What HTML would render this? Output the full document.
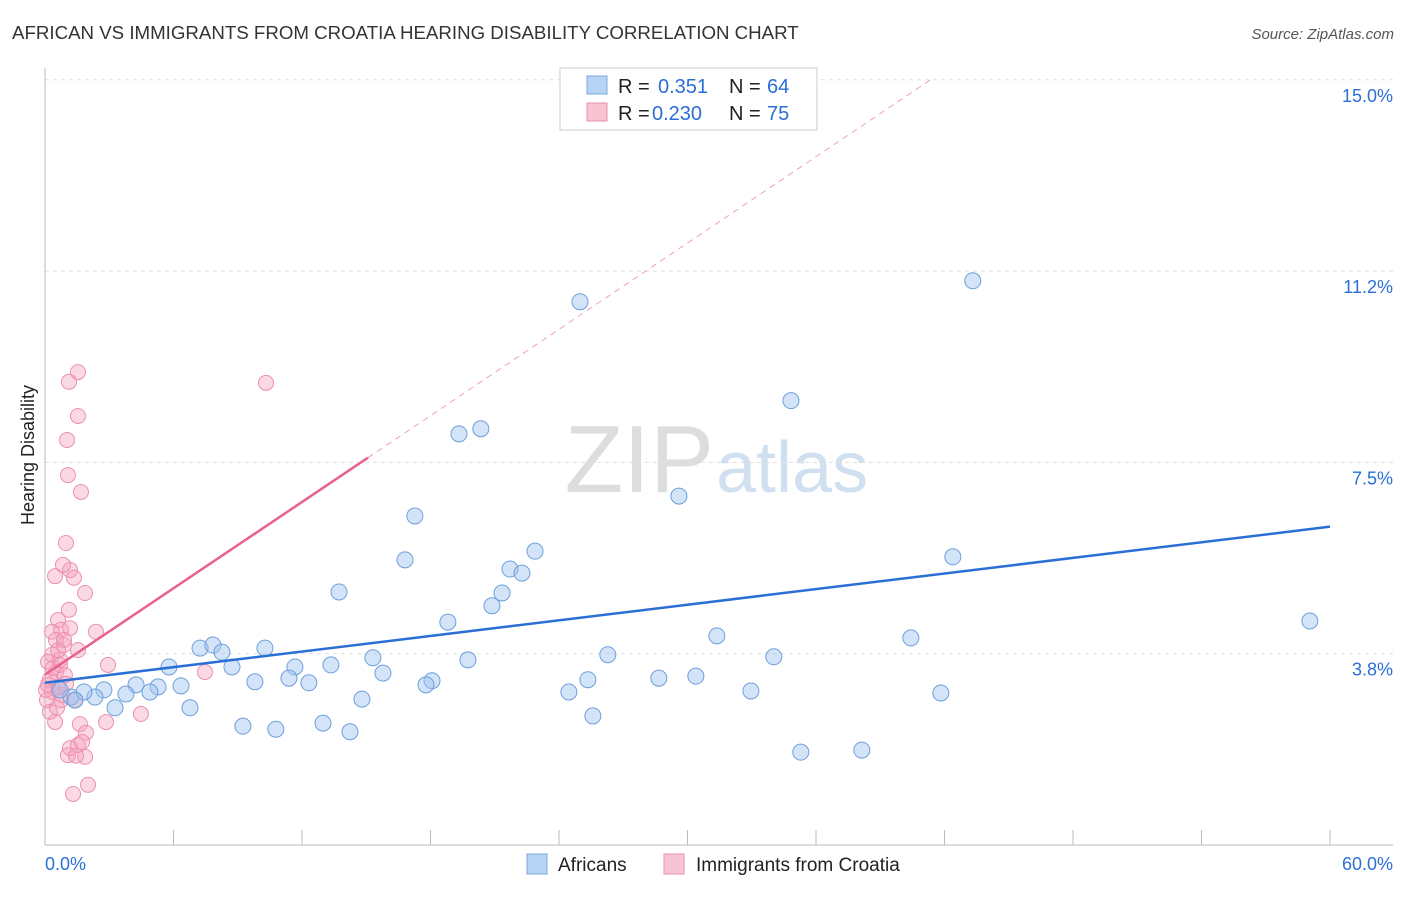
<!DOCTYPE html>
<html><head><meta charset="utf-8"><style>
body{margin:0;background:#fff;font-family:"Liberation Sans",sans-serif;}
svg text{font-family:"Liberation Sans",sans-serif;}
</style></head><body>
<svg id="c" width="1406" height="892" xmlns="http://www.w3.org/2000/svg">
<text x="12" y="39" font-size="18.7" fill="#333">AFRICAN VS IMMIGRANTS FROM CROATIA HEARING DISABILITY CORRELATION CHART</text>
<text x="1394" y="39" font-size="15" fill="#555" font-style="italic" text-anchor="end">Source: ZipAtlas.com</text>
<text x="714" y="492" font-size="96" fill="#ddd" text-anchor="end" font-family="Liberation Serif">ZIP</text>
<text x="716" y="492" font-size="72" fill="#d0e0f0">atlas</text>
<text transform="translate(34,455) rotate(-90)" font-size="18" fill="#222" text-anchor="middle">Hearing Disability</text>
<g id="grid"></g><g id="marks"></g>
<g>
<rect x="560" y="68" width="257" height="62" fill="#fff" stroke="#ccc"/>
<rect x="587" y="76" width="20" height="18" fill="#b8d4f4" stroke="#7aa8e0"/>
<rect x="587" y="103" width="20" height="18" fill="#f8c4d4" stroke="#ec90ae"/>
<text x="618" y="93" font-size="20" fill="#222">R =</text>
<text x="658" y="93" font-size="20" fill="#2a6fd6">0.351</text>
<text x="729" y="93" font-size="20" fill="#222">N =</text>
<text x="767" y="93" font-size="20" fill="#2a6fd6">64</text>
<text x="618" y="120" font-size="20" fill="#222">R =</text>
<text x="652" y="120" font-size="20" fill="#2a6fd6">0.230</text>
<text x="729" y="120" font-size="20" fill="#222">N =</text>
<text x="767" y="120" font-size="20" fill="#2a6fd6">75</text>
</g>
<g>
<rect x="527" y="854" width="20" height="20" fill="#b8d4f4" stroke="#7aa8e0"/>
<text x="558" y="871" font-size="19" fill="#222">Africans</text>
<rect x="664" y="854" width="20" height="20" fill="#f8c4d4" stroke="#ec90ae"/>
<text x="696" y="871" font-size="19" fill="#222">Immigrants from Croatia</text>
</g>
</svg>
<script>
const yTicks=[3.75,7.5,11.25,15];
const yTickLabels=["3.8%","7.5%","11.2%","15.0%"];
const xTickLabels=["0.0%","60.0%"];
const africansX=[24.98,43.32,34.83,19.33,20.35,29.60,17.27,16.81,22.88,21.71,22.27,42.39,13.73,21.34,20.87,18.81,59.06,31.37,40.43,10.27,7.24,7.84,8.26,5.79,8.73,26.28,34.03,15.31,19.75,13.35,11.67,15.78,11.39,28.66,30.39,25.35,18.07,17.79,9.80,12.32,4.25,5.28,6.35,2.75,2.33,3.78,4.90,1.21,32.96,41.83,24.46,14.80,6.77,3.27,25.58,9.24,10.78,12.98,14.24,35.29,38.14,0.70,1.82,1.40];
const africansY=[10.65,11.06,8.71,8.06,8.16,6.84,6.45,5.59,5.76,5.41,5.33,5.65,4.96,4.94,4.69,4.37,4.39,4.10,4.06,3.86,3.86,3.92,3.78,3.49,3.49,3.73,3.69,3.67,3.63,3.53,3.49,3.37,3.27,3.27,3.31,3.24,3.22,3.14,3.20,3.18,3.14,3.10,3.12,3.04,2.90,2.96,3.00,2.90,3.02,2.98,3.00,2.86,2.69,2.69,2.53,2.33,2.27,2.39,2.22,1.82,1.86,3.04,3.00,2.84];
const croatiaX=[1.54,1.12,10.32,1.54,1.03,1.07,1.68,0.98,0.47,1.17,0.84,1.35,1.87,1.12,0.61,0.75,0.33,1.17,2.38,0.51,0.89,1.54,0.33,0.70,2.94,7.47,0.14,0.51,0.93,0.23,0.61,0.33,0.79,0.09,1.40,0.23,0.56,4.48,1.63,2.85,0.47,1.91,1.17,1.54,1.07,1.73,1.87,1.45,1.31,2.01,0.05,0.14,0.37,0.70,0.89,0.61,0.98,0.75];
const croatiaY=[9.27,9.08,9.06,8.41,7.94,7.25,6.92,5.92,5.27,5.39,5.49,5.24,4.94,4.61,4.41,4.22,4.18,4.25,4.18,4.02,3.92,3.82,3.73,3.53,3.53,3.39,3.59,3.39,3.33,3.24,3.08,3.00,2.94,2.84,2.84,2.61,2.69,2.57,2.37,2.41,2.41,2.20,1.90,1.96,1.76,2.02,1.73,1.75,1.00,1.18,3.04,3.14,3.47,3.63,4.02,3.82,3.16,2.84];
const africansTrend=[3.18,6.24];
const croatiaTrend=[3.34,0.282];
const X=v=>45+v*(1285/60), Y=v=>845-v*(191.3/3.75);
const NS="http://www.w3.org/2000/svg";
function mk(t,a,p){const e=document.createElementNS(NS,t);for(const k in a)e.setAttribute(k,a[k]);p.appendChild(e);return e;}
const g=document.getElementById('grid'),m=document.getElementById('marks');
yTicks.forEach((t,i)=>{
 const l=mk('line',{x1:45,x2:1393,y1:Y(t),y2:Y(t),stroke:'#ddd','stroke-dasharray':'4,4'},g);
 
 
 const tx=mk('text',{x:1393,y:Y(t)+22,'font-size':18,fill:'#2a6fd6','text-anchor':'end'},g);tx.textContent=yTickLabels[i];
 
 
});
const ax=mk('line',{x1:45,x2:45,y1:68,y2:845,stroke:'#bbb'},g);


const bx=mk('line',{x1:45,x2:1393,y1:845,y2:845,stroke:'#bbb'},g);


for(let i=1;i<=10;i++){const t=mk('line',{x1:X(i*6),x2:X(i*6),y1:830,y2:845,stroke:'#bbb'},g);
 
 }
[[0,'start',45],[60,'end',1393]].forEach((d,i)=>{const t=mk('text',{x:d[2],y:870,'font-size':18,fill:'#2a6fd6','text-anchor':d[1]},g);t.textContent=xTickLabels[i];
 
 });
croatiaX.forEach((x,i)=>{const c=mk('circle',{cx:X(x),cy:Y(croatiaY[i]),r:7.5,fill:'rgba(244,160,188,0.4)',stroke:'#ec90ae','stroke-width':1},m);
 
 });
africansX.forEach((x,i)=>{const c=mk('circle',{cx:X(x),cy:Y(africansY[i]),r:8,fill:'rgba(160,196,240,0.45)',stroke:'#6d9fdc','stroke-width':1},m);
 
 });
const bl=mk('line',{x1:X(0),y1:Y(africansTrend[0]),x2:X(60),y2:Y(africansTrend[1]),stroke:'#2a6fd6','stroke-width':2.5},m);


const xe=(15-croatiaTrend[0])/croatiaTrend[1];
const pd=mk('line',{x1:X(15.08),y1:Y(croatiaTrend[0]+croatiaTrend[1]*15.08),x2:X(xe),y2:Y(15),stroke:'#f0a0b8','stroke-width':1,'stroke-dasharray':'6,5'},m);


const pl=mk('line',{x1:X(0),y1:Y(croatiaTrend[0]),x2:X(15.08),y2:Y(croatiaTrend[0]+croatiaTrend[1]*15.08),stroke:'#e8608c','stroke-width':2.5},m);


</script>
</body></html>
